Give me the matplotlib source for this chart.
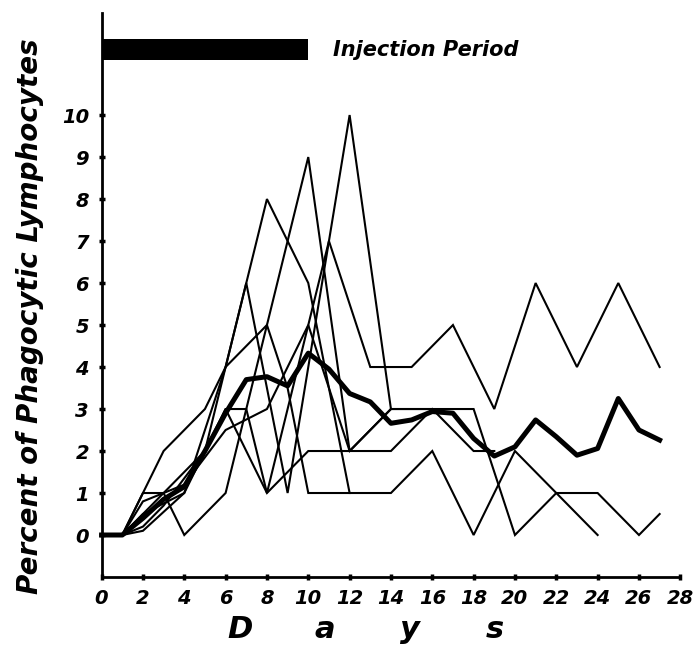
import matplotlib
matplotlib.use("Agg")
import matplotlib.pyplot as plt

# ---- data ----
mean_days = list(range(28))
mean_vals = [0, 0, 0.4, 0.85, 1.15, 2.0, 2.9, 3.7, 3.77, 3.55, 4.33, 3.95, 3.37, 3.17,
             2.66, 2.74, 2.94, 2.9, 2.3, 1.88, 2.1, 2.74, 2.34, 1.9, 2.06, 3.25, 2.5, 2.26]

r1_days = [0, 1, 2, 3, 5, 6, 7, 9, 12, 14, 16, 18, 20, 22, 24, 26, 27]
r1_vals = [0, 0, 0.2, 0.7, 2, 4, 6, 1, 10, 3, 3, 3, 0, 1, 1, 0, 0.5]
r2_days = [0, 1, 2, 3, 4, 6, 10, 12, 14, 16, 18, 19]
r2_vals = [0, 0, 1, 1, 0, 1, 9, 2, 3, 3, 2, 2]
r3_days = [0, 1, 2, 3, 5, 6, 8, 10, 12, 14, 16, 18, 20, 24]
r3_vals = [0, 0, 1, 2, 3, 4, 8, 6, 1, 1, 2, 0, 2, 0]
r4_days = [0, 1, 2, 4, 5, 6, 7, 8, 11, 13, 15, 17, 19, 21, 23, 25, 27]
r4_vals = [0, 0, 0.5, 1, 2, 3, 3, 1, 7, 4, 4, 5, 3, 6, 4, 6, 4]
r5_days = [0, 1, 2, 4, 6, 8, 10, 12, 14]
r5_vals = [0, 0, 0.8, 1.2, 2.5, 3, 5, 2, 3]
r6_days = [0, 1, 3, 5, 6, 8, 10, 14, 16]
r6_vals = [0, 0, 1, 2, 3, 1, 2, 2, 3]
r7_days = [0, 1, 2, 4, 6, 8, 9, 10, 12]
r7_vals = [0, 0, 0.1, 1, 4, 5, 3.5, 1, 1]

injection_start, injection_end, injection_level = 0, 10, 11.55

x_ticks = list(range(0, 29, 2))
y_ticks = list(range(0, 11))
y_label = "Percent of Phagocytic Lymphocytes"
x_label_letters = ["D", "a", "y", "s"]
injection_label = "Injection Period"

# ---- figure ----
W, H = 698, 652
fig = plt.figure(figsize=(W / 100, H / 100), dpi=100)
left_px, right_px, top_px, bottom_px = 101.6, 680.3, 13, 577
ax = fig.add_axes([left_px / W, 1 - bottom_px / H, (right_px - left_px) / W, (bottom_px - top_px) / H])
ax.set_xlim(0, 28)
ax.set_ylim(-1.0, 12.43)

thin = [(r1_days, r1_vals), (r2_days, r2_vals), (r3_days, r3_vals), (r4_days, r4_vals),
        (r5_days, r5_vals), (r6_days, r6_vals), (r7_days, r7_vals)]
for d, v in thin:
    ax.plot(d, v, color="black", lw=1.5, solid_joinstyle="miter", clip_on=False)
ax.plot(mean_days, mean_vals, color="black", lw=3.6, solid_joinstyle="round", clip_on=False)

ax.barh(injection_level, injection_end - injection_start, left=injection_start,
        height=0.5, color="black")
ax.text(11.2, injection_level, injection_label, ha="left", va="center",
        fontsize=15, fontstyle="italic", fontweight="bold")

for s in ["top", "right"]:
    ax.spines[s].set_visible(False)
for s in ["left", "bottom"]:
    ax.spines[s].set_linewidth(2.0)

ax.set_xticks(x_ticks)
ax.set_yticks(y_ticks)
ax.set_xticklabels([str(t) for t in x_ticks])
ax.set_yticklabels([str(t) for t in y_ticks])
ax.tick_params(direction="inout", length=4, width=2.5, labelsize=14, pad=7)
for lab in ax.get_xticklabels() + ax.get_yticklabels():
    lab.set_fontstyle("italic")
    lab.set_fontweight("bold")

fig.text(30 / W, 1 - 316 / H, y_label, rotation=90, ha="center", va="center",
         fontsize=20, fontstyle="italic", fontweight="bold")

letter_px = [240, 325, 410, 495]
for ch, px in zip(x_label_letters, letter_px):
    fig.text(px / W, 1 - 630 / H, ch, ha="center", va="center",
             fontsize=22, fontstyle="italic", fontweight="bold")

fig.savefig("out.png", dpi=100)
